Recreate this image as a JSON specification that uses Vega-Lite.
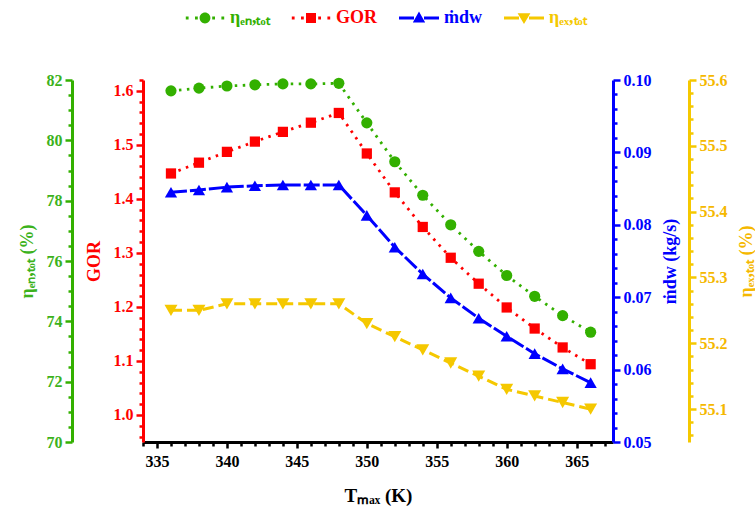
{
  "$schema": "https://vega.github.io/schema/vega-lite/v6.json",
  "width": 470,
  "height": 362,
  "autosize": {"type": "none"},
  "padding": {"left": 143, "top": 80, "right": 142, "bottom": 72},
  "background": "white",
  "config": {
    "font": "Liberation Serif",
    "view": {"stroke": null},
    "axis": {
      "labelFont": "Liberation Serif", "labelFontWeight": "bold", "labelFontSize": 16,
      "titleFont": "Liberation Serif", "titleFontWeight": "bold", "titleFontSize": 18,
      "grid": false, "domainWidth": 3, "tickWidth": 2.5, "labelPadding": 3
    }
  },
  "datasets": {
    "main": [
      {"T": 336, "en": 81.64, "gor": 1.447, "mdw": 0.0845, "ex": 55.25},
      {"T": 338, "en": 81.73, "gor": 1.467, "mdw": 0.0848, "ex": 55.25},
      {"T": 340, "en": 81.80, "gor": 1.487, "mdw": 0.0852, "ex": 55.26},
      {"T": 342, "en": 81.84, "gor": 1.506, "mdw": 0.0854, "ex": 55.26},
      {"T": 344, "en": 81.87, "gor": 1.524, "mdw": 0.0855, "ex": 55.26},
      {"T": 346, "en": 81.87, "gor": 1.541, "mdw": 0.0855, "ex": 55.26},
      {"T": 348, "en": 81.89, "gor": 1.559, "mdw": 0.0855, "ex": 55.26},
      {"T": 350, "en": 80.58, "gor": 1.484, "mdw": 0.0813, "ex": 55.23},
      {"T": 352, "en": 79.29, "gor": 1.412, "mdw": 0.0769, "ex": 55.21},
      {"T": 354, "en": 78.18, "gor": 1.348, "mdw": 0.0732, "ex": 55.19},
      {"T": 356, "en": 77.20, "gor": 1.291, "mdw": 0.0699, "ex": 55.17},
      {"T": 358, "en": 76.32, "gor": 1.243, "mdw": 0.0671, "ex": 55.15},
      {"T": 360, "en": 75.52, "gor": 1.199, "mdw": 0.0646, "ex": 55.13},
      {"T": 362, "en": 74.83, "gor": 1.160, "mdw": 0.0622, "ex": 55.12},
      {"T": 364, "en": 74.19, "gor": 1.125, "mdw": 0.0601, "ex": 55.11},
      {"T": 366, "en": 73.64, "gor": 1.094, "mdw": 0.0582, "ex": 55.10}
    ]
  },
  "layer": [
    {
      "data": {"name": "main"},
      "layer": [
        {
          "mark": {"type": "line", "color": "#33b000", "strokeWidth": 2.8, "strokeDash": [2.5, 5.5],
                   "point": {"filled": true, "shape": "circle", "size": 125, "color": "#33b000"}},
          "encoding": {
            "x": {"field": "T", "type": "quantitative", "scale": {"domain": [334, 367.6], "nice": false, "zero": false},
                  "axis": {"orient": "bottom", "values": [335, 340, 345, 350, 355, 360, 365], "title": "Tₘₐₓ (K)",
                           "tickSize": 6, "domainColor": "black", "tickColor": "black", "labelColor": "black",
                           "titleColor": "black", "labelPadding": 5, "titlePadding": 17, "titleFontSize": 19}},
            "y": {"field": "en", "type": "quantitative", "scale": {"domain": [70, 82], "nice": false, "zero": false},
                  "axis": {"orient": "left", "offset": 71, "values": [70, 72, 74, 76, 78, 80, 82], "title": "ηₑₙ,ₜₒₜ (%)",
                           "tickSize": 7, "domainColor": "#33b000", "tickColor": "#33b000", "labelColor": "#3cb21c",
                           "titleColor": "#3cb21c", "titlePadding": 10}}
          }
        },
        {
          "mark": {"type": "point", "opacity": 0},
          "encoding": {
            "x": {"field": "T", "type": "quantitative", "scale": {"domain": [334, 367.6], "nice": false, "zero": false},
                  "axis": {"orient": "bottom", "values": [334, 336, 337, 338, 339, 341, 342, 343, 344, 346, 347, 348, 349, 351, 352, 353, 354, 356, 357, 358, 359, 361, 362, 363, 364, 366, 367],
                           "labels": false, "title": null, "domain": false, "tickSize": 4, "tickColor": "black"}},
            "y": {"field": "en", "type": "quantitative", "scale": {"domain": [70, 82], "nice": false, "zero": false},
                  "axis": {"orient": "left", "offset": 71, "values": [70.5, 71, 71.5, 72.5, 73, 73.5, 74.5, 75, 75.5, 76.5, 77, 77.5, 78.5, 79, 79.5, 80.5, 81, 81.5],
                           "labels": false, "title": null, "domain": false, "tickSize": 4, "tickColor": "#33b000"}}
          }
        }
      ],
      "resolve": {"axis": {"x": "independent", "y": "independent"}}
    },
    {
      "data": {"name": "main"},
      "layer": [
        {
          "mark": {"type": "line", "color": "#ff0000", "strokeWidth": 2.8, "strokeDash": [2.5, 5.5],
                   "point": {"filled": true, "shape": "square", "size": 105, "color": "#ff0000"}},
          "encoding": {
            "x": {"field": "T", "type": "quantitative", "scale": {"domain": [334, 367.6], "nice": false, "zero": false}, "axis": null},
            "y": {"field": "gor", "type": "quantitative", "scale": {"domain": [0.95, 1.62], "nice": false, "zero": false},
                  "axis": {"orient": "left", "offset": 0, "values": [1.0, 1.1, 1.2, 1.3, 1.4, 1.5, 1.6], "format": ".1f", "title": "GOR",
                           "tickSize": 7, "domainColor": "#ff0000", "tickColor": "#ff0000", "labelColor": "#ff0000",
                           "titleColor": "#ff0000", "titlePadding": 10}}
          }
        },
        {
          "mark": {"type": "point", "opacity": 0},
          "encoding": {
            "x": {"field": "T", "type": "quantitative", "scale": {"domain": [334, 367.6], "nice": false, "zero": false}, "axis": null},
            "y": {"field": "gor", "type": "quantitative", "scale": {"domain": [0.95, 1.62], "nice": false, "zero": false},
                  "axis": {"orient": "left", "offset": 0, "values": [0.96, 0.98, 1.02, 1.04, 1.06, 1.08, 1.12, 1.14, 1.16, 1.18, 1.22, 1.24, 1.26, 1.28, 1.32, 1.34, 1.36, 1.38, 1.42, 1.44, 1.46, 1.48, 1.52, 1.54, 1.56, 1.58, 1.62],
                           "labels": false, "title": null, "domain": false, "tickSize": 4, "tickColor": "#ff0000"}}
          }
        }
      ],
      "resolve": {"axis": {"y": "independent"}}
    },
    {
      "data": {"name": "main"},
      "layer": [
        {
          "mark": {"type": "line", "color": "#0000ff", "strokeWidth": 3, "strokeDash": [16, 3],
                   "point": {"filled": true, "shape": "triangle-up", "size": 150, "color": "#0000ff"}},
          "encoding": {
            "x": {"field": "T", "type": "quantitative", "scale": {"domain": [334, 367.6], "nice": false, "zero": false}, "axis": null},
            "y": {"field": "mdw", "type": "quantitative", "scale": {"domain": [0.05, 0.1], "nice": false, "zero": false},
                  "axis": {"orient": "right", "offset": 0, "values": [0.05, 0.06, 0.07, 0.08, 0.09, 0.1], "format": ".2f", "title": "ṁdw (kg/s)",
                           "titleAngle": -90, "titleBaseline": "top",
                           "tickSize": 7, "domainColor": "#0000ff", "tickColor": "#0000ff", "labelColor": "#0000ff",
                           "titleColor": "#0000ff", "titlePadding": 10}}
          }
        },
        {
          "mark": {"type": "point", "opacity": 0},
          "encoding": {
            "x": {"field": "T", "type": "quantitative", "scale": {"domain": [334, 367.6], "nice": false, "zero": false}, "axis": null},
            "y": {"field": "mdw", "type": "quantitative", "scale": {"domain": [0.05, 0.1], "nice": false, "zero": false},
                  "axis": {"orient": "right", "offset": 0, "values": [0.052, 0.054, 0.056, 0.058, 0.062, 0.064, 0.066, 0.068, 0.072, 0.074, 0.076, 0.078, 0.082, 0.084, 0.086, 0.088, 0.092, 0.094, 0.096, 0.098],
                           "labels": false, "title": null, "domain": false, "tickSize": 4, "tickColor": "#0000ff"}}
          }
        }
      ],
      "resolve": {"axis": {"y": "independent"}}
    },
    {
      "data": {"name": "main"},
      "layer": [
        {
          "mark": {"type": "line", "color": "#f5c800", "strokeWidth": 3, "strokeDash": [11, 5],
                   "point": {"filled": true, "shape": "triangle-down", "size": 170, "color": "#f5c800"}},
          "encoding": {
            "x": {"field": "T", "type": "quantitative", "scale": {"domain": [334, 367.6], "nice": false, "zero": false}, "axis": null},
            "y": {"field": "ex", "type": "quantitative", "scale": {"domain": [55.05, 55.6], "nice": false, "zero": false},
                  "axis": {"orient": "right", "offset": 76, "values": [55.1, 55.2, 55.3, 55.4, 55.5, 55.6], "format": ".1f", "title": "ηₑₓ,ₜₒₜ (%)",
                           "titleAngle": -90, "titleBaseline": "top",
                           "tickSize": 7, "domainColor": "#f5c800", "tickColor": "#f5c800", "labelColor": "#f5b800",
                           "titleColor": "#f5b800", "titlePadding": 10}}
          }
        },
        {
          "mark": {"type": "point", "opacity": 0},
          "encoding": {
            "x": {"field": "T", "type": "quantitative", "scale": {"domain": [334, 367.6], "nice": false, "zero": false}, "axis": null},
            "y": {"field": "ex", "type": "quantitative", "scale": {"domain": [55.05, 55.6], "nice": false, "zero": false},
                  "axis": {"orient": "right", "offset": 76, "values": [55.06, 55.08, 55.12, 55.14, 55.16, 55.18, 55.22, 55.24, 55.26, 55.28, 55.32, 55.34, 55.36, 55.38, 55.42, 55.44, 55.46, 55.48, 55.52, 55.54, 55.56, 55.58],
                           "labels": false, "title": null, "domain": false, "tickSize": 4, "tickColor": "#f5c800"}}
          }
        }
      ],
      "resolve": {"axis": {"y": "independent"}}
    },
    {
      "data": {"values": [{"s": "ηₑₙ,ₜₒₜ"}, {"s": "GOR"}, {"s": "ṁdw"}, {"s": "ηₑₓ,ₜₒₜ"}]},
      "transform": [{"filter": "datum.s == 'none'"}],
      "mark": {"type": "point", "filled": true},
      "encoding": {
        "color": {"field": "s", "type": "nominal",
                  "scale": {"domain": ["ηₑₙ,ₜₒₜ", "GOR", "ṁdw", "ηₑₓ,ₜₒₜ"], "range": ["#33b000", "#ff0000", "#0000ff", "#f5c800"]},
                  "legend": {"orient": "none", "legendX": 42, "legendY": -82, "direction": "horizontal", "title": null,
                             "symbolSize": 1600, "symbolStrokeWidth": 0, "symbolOpacity": 1,
                             "labelFont": "Liberation Serif", "labelFontSize": 18, "labelFontWeight": "bold",
                             "labelOffset": 5, "columnPadding": 21,
                             "encode": {"labels": {"update": {"fill": {"scale": "color", "field": "value"}}}}}},
        "shape": {"field": "s", "type": "nominal",
                  "scale": {"domain": ["ηₑₙ,ₜₒₜ", "GOR", "ṁdw", "ηₑₓ,ₜₒₜ"],
                            "range": [
                              "M-0.96,-0.07h0.14v0.14h-0.14Z M-0.5,-0.07h0.14v0.14h-0.14Z M0.36,-0.07h0.14v0.14h-0.14Z M0.82,-0.07h0.14v0.14h-0.14Z M-0.27,0A0.27,0.27 0 1,0 0.27,0A0.27,0.27 0 1,0 -0.27,0Z",
                              "M-0.96,-0.07h0.14v0.14h-0.14Z M-0.5,-0.07h0.14v0.14h-0.14Z M0.36,-0.07h0.14v0.14h-0.14Z M0.82,-0.07h0.14v0.14h-0.14Z M-0.25,-0.25h0.5v0.5h-0.5Z",
                              "M-1,-0.075H-0.25V0.075H-1Z M0.25,-0.075H1V0.075H0.25Z M0,-0.32L0.31,0.22L-0.31,0.22Z",
                              "M-1,-0.075H-0.25V0.075H-1Z M0.25,-0.075H1V0.075H0.25Z M-0.32,-0.24L0.32,-0.24L0,0.3Z"
                            ]},
                  "legend": null}
      }
    }
  ],
  "resolve": {"scale": {"y": "independent"}}
}
